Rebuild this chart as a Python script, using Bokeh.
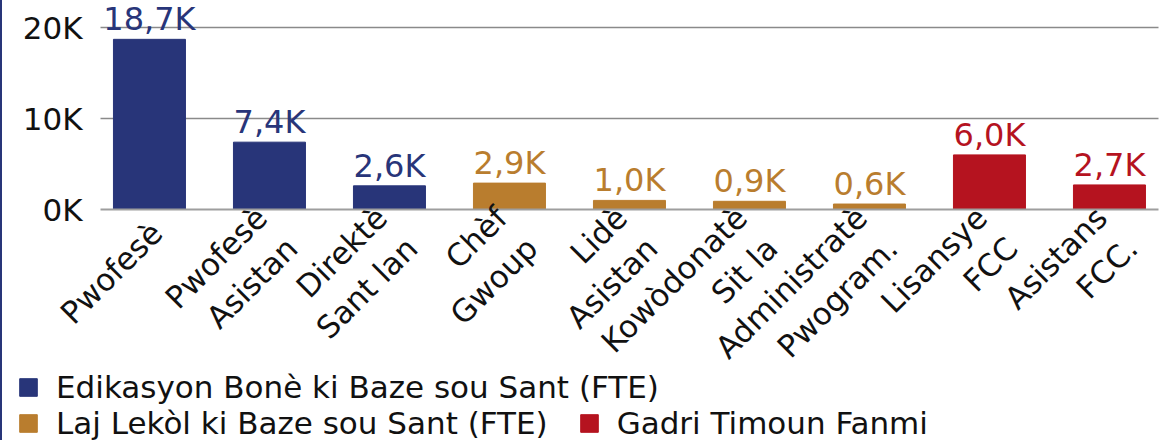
from bokeh.plotting import figure
from bokeh.models import (ColumnDataSource, Range1d, FixedTicker, Legend, LegendItem,
                          LabelSet, CDSView, IndexFilter, Grid)
from bokeh.embed import file_html
from bokeh.resources import INLINE
from bokeh.core.properties import value

categories = ["Pwofesè", "Pwofesè\nAsistan", "Direktè\nSant lan", "Chèf\nGwoup",
              "Lidè\nAsistan", "Kowòdonatè\nSit la", "Administratè\nPwogram.",
              "Lisansye\nFCC", "Asistans\nFCC."]
values_k = [18.7, 7.4, 2.6, 2.9, 1.0, 0.9, 0.6, 6.0, 2.7]
groups = ["edu", "edu", "edu", "laj", "laj", "laj", "laj", "gadri", "gadri"]
group_names = {"edu": "Edikasyon Bonè ki Baze sou Sant (FTE)",
               "laj": "Laj Lekòl ki Baze sou Sant (FTE)",
               "gadri": "Gadri Timoun Fanmi"}
group_colors = {"edu": "#283579", "laj": "#B97D2E", "gadri": "#B5131F"}
y_ticks_k = [0, 10, 20]

FONT = "DejaVu Sans"
W, H = 1170, 440
PX_PER_CAT = 120.0
PX_PER_K = 9.1
LEFT_PX = 98          # plot-area left edge inside the canvas
BASE_PX = 209         # baseline y inside the canvas
X0 = -0.408           # data x of plot-area left edge
X1 = 8.408            # data x of plot-area right edge
LABEL_SHIFT = 0.06    # category label anchor shift (in category units)

x_start = X0 - LEFT_PX / PX_PER_CAT
x_end = x_start + W / PX_PER_CAT
y_end = BASE_PX / PX_PER_K * 1000
y_start = -(H - BASE_PX) / PX_PER_K * 1000

idx = list(range(len(categories)))
src = ColumnDataSource(dict(
    x=idx,
    top=[v * 1000 for v in values_k],
    label=[("%.1fK" % v).replace(".", ",") for v in values_k],
    color=[group_colors[g] for g in groups],
))

p = figure(width=W, height=H, output_backend="svg", toolbar_location=None,
           x_range=Range1d(x_start, x_end), y_range=Range1d(y_start, y_end),
           min_border=0, x_axis_location="below", y_axis_location="left")
p.styles = {"border-left": "2px solid #283579"}
p.outline_line_color = None

renderers = {}
for g in ["edu", "laj", "gadri"]:
    view_idx = [i for i, gg in enumerate(groups) if gg == g]
    renderers[g] = p.vbar(x="x", top="top", width=0.6, source=src, color=group_colors[g],
                          view=CDSView(filter=IndexFilter(view_idx)))

labels = LabelSet(x="x", y="top", text="label", source=src, text_color="color",
                  text_align="center", text_baseline="alphabetic", y_offset=9,
                  text_font=value(FONT), text_font_size="32px")
p.add_layout(labels)

# y axis drawn at the plot-area left edge
p.yaxis.fixed_location = X0
p.yaxis.ticker = FixedTicker(ticks=[t * 1000 for t in y_ticks_k])
p.yaxis.major_label_overrides = {t * 1000: "%dK" % t for t in y_ticks_k}
p.yaxis.axis_line_color = None
p.yaxis.major_tick_line_color = None
p.yaxis.major_tick_out = 0
p.yaxis.major_tick_in = 0
p.yaxis.minor_tick_line_color = None
p.yaxis.major_label_standoff = 18
p.yaxis.major_label_text_font = FONT
p.yaxis.major_label_text_font_size = "31px"
p.yaxis.major_label_text_color = "#111111"

# x axis drawn at the zero line
label_ticks = [i + LABEL_SHIFT for i in idx]
p.xaxis.fixed_location = 0
p.xaxis.bounds = (X0, X1)
p.xaxis.ticker = FixedTicker(ticks=label_ticks)
p.xaxis.major_label_overrides = {t: c for t, c in zip(label_ticks, categories)}
p.xaxis.major_label_orientation = 0.785398
p.xaxis.axis_line_color = "#9e9e9e"
p.xaxis.axis_line_width = 2
p.xaxis.major_tick_line_color = None
p.xaxis.major_tick_out = 0
p.xaxis.major_tick_in = 0
p.xaxis.minor_tick_line_color = None
p.xaxis.major_label_standoff = 18
p.xaxis.major_label_text_font = FONT
p.xaxis.major_label_text_font_size = "31px"
p.xaxis.major_label_text_color = "#111111"

p.xgrid.grid_line_color = None
p.ygrid.ticker = FixedTicker(ticks=[10000, 20000])
p.ygrid.grid_line_color = "#8a8a8a"
p.ygrid.grid_line_width = 1.5
if "cross_bounds" in Grid.properties():
    p.ygrid.cross_bounds = (X0, X1)

def mk_legend(items, loc):
    return Legend(items=items, location=loc, orientation="horizontal",
                  label_text_font=FONT, label_text_font_size="31px",
                  label_text_color="#111111", glyph_width=22, glyph_height=22,
                  label_standoff=17, spacing=30, padding=0, margin=0,
                  border_line_color=None, background_fill_alpha=0,
                  label_height=36, label_text_baseline="middle")

leg1 = mk_legend([LegendItem(label=group_names["edu"], renderers=[renderers["edu"]])],
                 (15, 35))
leg2 = mk_legend([LegendItem(label=group_names["laj"], renderers=[renderers["laj"]]),
                  LegendItem(label=group_names["gadri"], renderers=[renderers["gadri"]])],
                 (15, -1))
p.add_layout(leg1)
p.add_layout(leg2)

open("out.html", "w").write(file_html(p, INLINE))
